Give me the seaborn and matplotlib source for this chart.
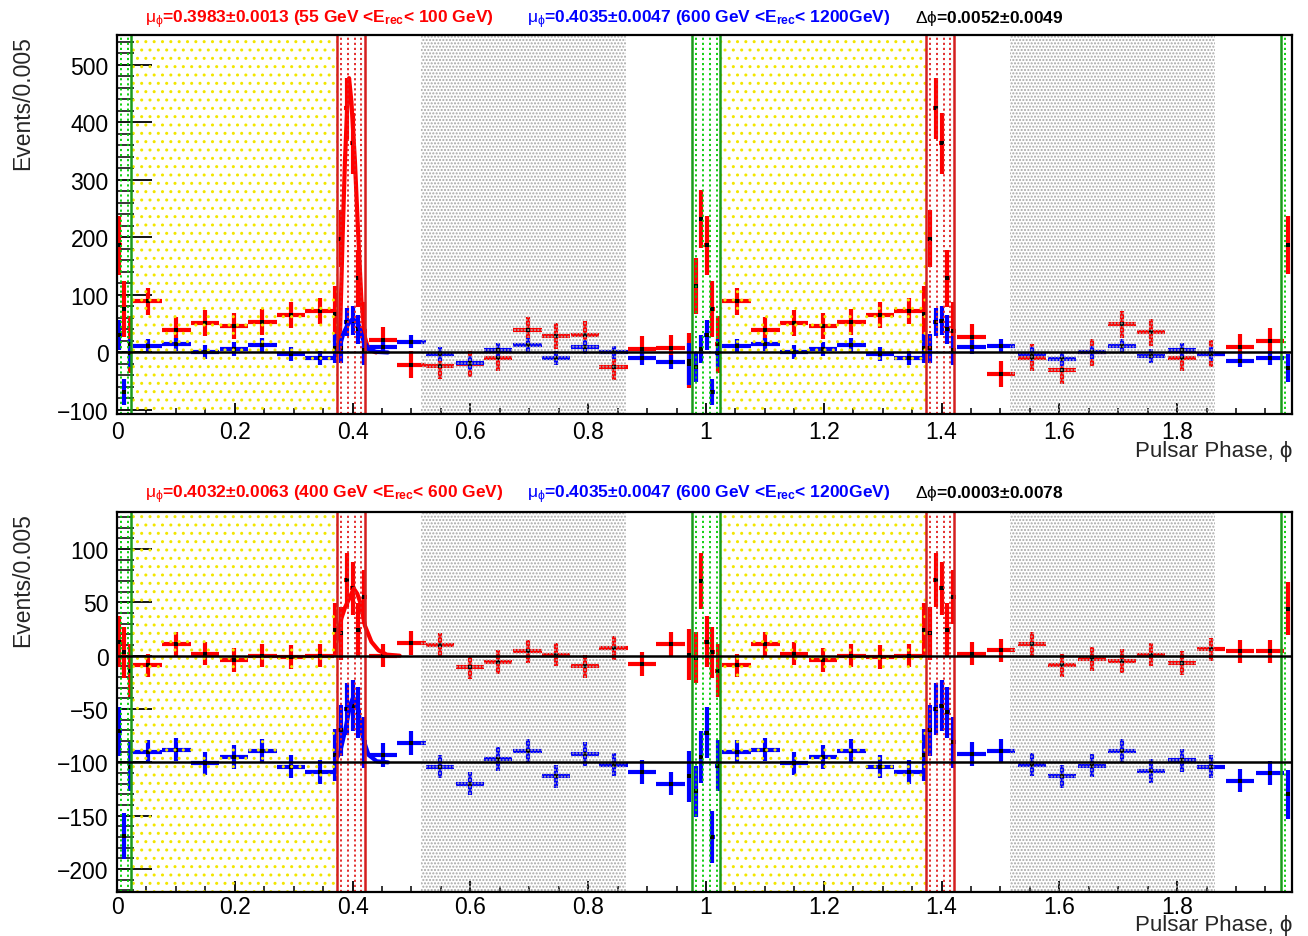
import numpy as np
import matplotlib
matplotlib.use("Agg")
import matplotlib.pyplot as plt
from matplotlib.ticker import MultipleLocator, FuncFormatter
import seaborn as sns

sns.set_style("white")
plt.rcParams['font.family'] = ['Liberation Sans', 'DejaVu Sans']
plt.rcParams['mathtext.fontset'] = 'custom'
plt.rcParams['mathtext.rm'] = 'Liberation Sans'
plt.rcParams['mathtext.it'] = 'Liberation Sans'
plt.rcParams['mathtext.bf'] = 'Liberation Sans:bold'
plt.rcParams['mathtext.fallback'] = 'stixsans'
plt.rcParams['hatch.linewidth'] = 1.0

# ---------------- data ----------------
# phase positions (bin centres) and bin half widths
PH_EDGE = [0.004, 0.012, 0.022]
PH_EDGE_HALF = [0.004, 0.004, 0.004]
PH_ON = [0.052, 0.101, 0.149, 0.199, 0.247, 0.295, 0.344, 0.370, 0.380, 0.390, 0.400, 0.410, 0.420]
PH_ON_HALF = [0.024] * 7 + [0.004] * 6
PH_OFF1 = [0.452, 0.500, 0.548, 0.599, 0.647, 0.697, 0.745, 0.795, 0.843, 0.891, 0.940,
           0.971, 0.983, 0.9915, 1.001, 1.011, 1.020]
PH_OFF1_HALF = [0.024] * 11 + [0.004] * 6
PH_OFF2 = [1.451, 1.501, 1.553, 1.604, 1.655, 1.706, 1.756, 1.808, 1.857, 1.907, 1.958, 1.988]
PH_OFF2_HALF = [0.024] * 11 + [0.004]

# top panel: 55-100 GeV (red), 600-1200 GeV (blue)
TOP_RED_EDGE = [186, 76, 14]
TOP_RED_EDGE_ERR = [51, 49, 49]
TOP_RED_ON = [89, 39, 51, 46, 53, 65, 72, 67, 198, 425, 364, 129, 37]
TOP_RED_ON_ERR = [23] * 7 + [48, 50, 53, 53, 50, 51]
TOP_RED_OFF1 = [21, -21, -23, -20, -10, 39, 29, 31, -25, 6, 7, -14, 116, 232, 186, 76, 14]
TOP_RED_OFF1_ERR = [23] * 11 + [48, 49, 51, 51, 49, 49]
TOP_RED_OFF2 = [27, -37, -9, -31, 0, 49, 35, -10, -2, 9, 20, 187]
TOP_RED_OFF2_ERR = [23] * 11 + [50]

TOP_BLUE_EDGE = [31, -69, -1]
TOP_BLUE_EDGE_ERR = [26, 23, 25]
TOP_BLUE_ON = [12, 14, 1, 6, 13, -2, -9, 7, 7, 53, 55, 40, 4]
TOP_BLUE_ON_ERR = [12] * 7 + [25] * 6
TOP_BLUE_OFF1 = [9, 19, -2, -19, 4, 13, -9, 10, 0, -9, -17, -20, -26, 6, 30, -69, -1]
TOP_BLUE_OFF1_ERR = [12] * 11 + [37, 26, 25, 26, 23, 25]
TOP_BLUE_OFF2 = [10, 11, -2, -12, 0, 11, -6, 4, -3, -14, -9, -27]
TOP_BLUE_OFF2_ERR = [12] * 11 + [25]

# bottom panel: 400-600 GeV (red), 600-1200 GeV shifted by -100 (blue)
BOT_RED_EDGE = [13, 3, -14]
BOT_RED_EDGE_ERR = [24, 24, 25]
BOT_RED_ON = [-9, 11, 2, -4, 0, -1, 0, 24, 21, 71, 63, 24, 55]
BOT_RED_ON_ERR = [11] * 7 + [25] * 6
BOT_RED_OFF1 = [0, 12, 10, -11, -6, 4, 1, -10, 7, -8, 11, 1, -2, 70, 13, 3, -14]
BOT_RED_OFF1_ERR = [11] * 11 + [24, 24, 26, 24, 24, 25]
BOT_RED_OFF2 = [2, 5, 11, -9, -3, -5, 1, -7, 6, 4, 4, 44]
BOT_RED_OFF2_ERR = [11] * 11 + [25]

BOT_BLUE_EDGE = [-71, -169, -104]
BOT_BLUE_EDGE_ERR = [23, 22, 23]
BOT_BLUE_ON = [-90, -88, -101, -95, -89, -104, -109, -93, -70, -50, -47, -53, -81]
BOT_BLUE_ON_ERR = [11] * 7 + [24] * 6
BOT_BLUE_OFF1 = [-93, -82, -104, -120, -97, -89, -113, -92, -102, -109, -120,
                 -113, -127, -95, -72, -170, -103]
BOT_BLUE_OFF1_ERR = [11] * 11 + [24] * 6
BOT_BLUE_OFF2 = [-92, -89, -102, -113, -103, -89, -108, -98, -104, -117, -110, -130]
BOT_BLUE_OFF2_ERR = [11] * 11 + [23]

# fitted pulse profiles
FIT_TOP_RED_X = [0.372, 0.376, 0.378, 0.383, 0.387, 0.391, 0.394, 0.398, 0.404, 0.410, 0.415, 0.421, 0.427, 0.440]
FIT_TOP_RED_Y = [0, 3, 8, 199, 332, 430, 477, 436, 332, 194, 90, 26, 5, 0]
FIT_TOP_BLUE_X = [0.372, 0.378, 0.384, 0.390, 0.395, 0.400, 0.405, 0.410, 0.418, 0.427, 0.440, 0.460]
FIT_TOP_BLUE_Y = [0, 10, 32, 45, 53, 58, 55, 49, 22, 6, 1, 0]
FIT_BOT_RED_X = [0.372, 0.381, 0.387, 0.393, 0.402, 0.408, 0.413, 0.421, 0.432, 0.444, 0.458, 0.480]
FIT_BOT_RED_Y = [12, 35, 45, 52, 63, 58, 50, 28, 13, 5, 1, 0]
FIT_BOT_BLUE_X = [0.372, 0.379, 0.387, 0.396, 0.401, 0.405, 0.410, 0.418, 0.427, 0.441, 0.460]
FIT_BOT_BLUE_Y = [-97, -90, -71, -46, -39, -43, -53, -78, -93, -99, -100]

TOP_TITLES = [r'$\mu_{\phi}$' + '=0.3983±0.0013 (55 GeV <E' + r'$_{\mathbf{rec}}$' + '< 100 GeV)',
              r'$\mu_{\phi}$' + '=0.4035±0.0047 (600 GeV <E' + r'$_{\mathbf{rec}}$' + '< 1200GeV)',
              r'$\Delta\phi$' + '=0.0052±0.0049']
BOT_TITLES = [r'$\mu_{\phi}$' + '=0.4032±0.0063 (400 GeV <E' + r'$_{\mathbf{rec}}$' + '< 600 GeV)',
              r'$\mu_{\phi}$' + '=0.4035±0.0047 (600 GeV <E' + r'$_{\mathbf{rec}}$' + '< 1200GeV)',
              r'$\Delta\phi$' + '=0.0003±0.0078']
Y_LABEL = "Events/0.005"
X_LABEL = "Pulsar Phase, ϕ"

# phase regions
GREEN_BAND = (-0.023, 0.024)
YELLOW_BAND = (0.024, 0.374)
RED_BAND = (0.374, 0.421)
GRAY_BAND = (0.516, 0.865)

RED = '#ff0000'
BLUE = '#0000ff'


def full(edge, on, off1, off2):
    return list(edge) + list(on) + list(off1) + list(on) + list(off2)


X_ALL = PH_EDGE + PH_ON + PH_OFF1 + [p + 1 for p in PH_ON] + PH_OFF2
XERR_ALL = PH_EDGE_HALF + PH_ON_HALF + PH_OFF1_HALF + PH_ON_HALF + PH_OFF2_HALF

fig = plt.figure(figsize=(13.08, 9.37), dpi=100)
ax_top = fig.add_axes([117 / 1308, 1 - 415 / 937, 1175 / 1308, 379 / 937])
ax_bot = fig.add_axes([117 / 1308, 1 - 893 / 937, 1175 / 1308, 380 / 937])

fmt = FuncFormatter(lambda v, p: f"{v:g}".replace('-', '\u2212'))


def draw_bands(ax):
    tr = ax.get_xaxis_transform()
    for k in (0, 1, 2):
        g0, g1 = GREEN_BAND[0] + k, GREEN_BAND[1] + k
        ax.vlines([g0 + (i + 0.5) * (g1 - g0) / 4 for i in range(4)], 0, 1, transform=tr,
                  colors='#00cc00', linestyles=(0, (1.2, 1.6)), lw=1.3, zorder=5)
        for e in (g0, g1):
            ax.axvline(e, color='#1a9a1a', lw=1.8, zorder=6)
    for k in (0, 1):
        ax.axvspan(YELLOW_BAND[0] + k, YELLOW_BAND[1] + k, facecolor='none',
                   edgecolor='#f2e600', hatch='..', lw=0, zorder=5)
        ax.axvspan(GRAY_BAND[0] + k, GRAY_BAND[1] + k, facecolor='none',
                   edgecolor='#a6a6a6', hatch='.....', lw=0, zorder=5)
        r0, r1 = RED_BAND[0] + k, RED_BAND[1] + k
        ax.vlines([r0 + (i + 0.5) * (r1 - r0) / 4 for i in range(4)], 0, 1, transform=tr,
                  colors='#e02020', linestyles=(0, (1.2, 1.6)), lw=1.3, zorder=5)
        for e in (r0, r1):
            ax.axvline(e, color='#d42020', lw=1.8, zorder=6)


def draw_series(ax, y, yerr, color):
    ax.errorbar(X_ALL, y, yerr=yerr, xerr=XERR_ALL, fmt='none', ecolor=color,
                elinewidth=3.0, capsize=0, zorder=3)
    sns.scatterplot(x=X_ALL, y=y, ax=ax, marker='s', s=5, color='black',
                    linewidth=0, zorder=4, legend=False)


def style_axis(ax, ylim, ymaj, ymin, xlab_y, xpad):
    ax.set_xlim(0, 1.995)
    ax.set_ylim(*ylim)
    ax.xaxis.set_major_locator(MultipleLocator(0.2))
    ax.xaxis.set_minor_locator(MultipleLocator(0.05))
    ax.yaxis.set_major_locator(MultipleLocator(ymaj))
    ax.yaxis.set_minor_locator(MultipleLocator(ymin))
    ax.xaxis.set_major_formatter(fmt)
    ax.yaxis.set_major_formatter(fmt)
    ax.tick_params(axis='x', which='major', direction='in', length=8, width=1.3,
                   top=False, bottom=True, labelsize=16.5, pad=xpad, colors='black')
    ax.tick_params(axis='x', which='minor', direction='in', length=4.3, width=1.3,
                   top=False, bottom=True)
    ax.tick_params(axis='y', which='major', direction='in', length=25, width=1.3,
                   right=False, left=True, labelsize=16.5, pad=6, colors='black')
    ax.tick_params(axis='y', which='minor', direction='in', length=12.5, width=1.3,
                   right=False, left=True)
    for s in ax.spines.values():
        s.set_color('black')
        s.set_linewidth(1.6)
        s.set_zorder(8)
    ax.set_ylabel(Y_LABEL, fontsize=16.5, loc='top')
    ax.yaxis.set_label_coords(-0.0706, 1.0)
    ax.set_xlabel(X_LABEL, fontsize=16, loc='right')
    ax.xaxis.set_label_coords(1.0, xlab_y)


# ---- top panel
draw_bands(ax_top)
draw_series(ax_top, full(TOP_RED_EDGE, TOP_RED_ON, TOP_RED_OFF1, TOP_RED_OFF2),
            full(TOP_RED_EDGE_ERR, TOP_RED_ON_ERR, TOP_RED_OFF1_ERR, TOP_RED_OFF2_ERR), RED)
draw_series(ax_top, full(TOP_BLUE_EDGE, TOP_BLUE_ON, TOP_BLUE_OFF1, TOP_BLUE_OFF2),
            full(TOP_BLUE_EDGE_ERR, TOP_BLUE_ON_ERR, TOP_BLUE_OFF1_ERR, TOP_BLUE_OFF2_ERR), BLUE)
sns.lineplot(x=FIT_TOP_RED_X, y=FIT_TOP_RED_Y, ax=ax_top, color=RED, lw=3, sort=False,
             estimator=None, zorder=4)
sns.lineplot(x=FIT_TOP_BLUE_X, y=FIT_TOP_BLUE_Y, ax=ax_top, color=BLUE, lw=3, sort=False,
             estimator=None, zorder=4)
ax_top.axhline(0, color='black', lw=1.8, zorder=7)
style_axis(ax_top, (-107, 552), 100, 20, -0.068, 4)

# ---- bottom panel
draw_bands(ax_bot)
draw_series(ax_bot, full(BOT_RED_EDGE, BOT_RED_ON, BOT_RED_OFF1, BOT_RED_OFF2),
            full(BOT_RED_EDGE_ERR, BOT_RED_ON_ERR, BOT_RED_OFF1_ERR, BOT_RED_OFF2_ERR), RED)
draw_series(ax_bot, full(BOT_BLUE_EDGE, BOT_BLUE_ON, BOT_BLUE_OFF1, BOT_BLUE_OFF2),
            full(BOT_BLUE_EDGE_ERR, BOT_BLUE_ON_ERR, BOT_BLUE_OFF1_ERR, BOT_BLUE_OFF2_ERR), BLUE)
sns.lineplot(x=FIT_BOT_RED_X, y=FIT_BOT_RED_Y, ax=ax_bot, color=RED, lw=3, sort=False,
             estimator=None, zorder=4)
sns.lineplot(x=FIT_BOT_BLUE_X, y=FIT_BOT_BLUE_Y, ax=ax_bot, color=BLUE, lw=3, sort=False,
             estimator=None, zorder=4)
ax_bot.axhline(0, color='black', lw=1.8, zorder=7)
ax_bot.axhline(-100, color='black', lw=1.8, zorder=7)
style_axis(ax_bot, (-221.5, 134.7), 50, 10, -0.058, 2)

# ---- titles
for titles, base in ((TOP_TITLES, 23), (BOT_TITLES, 498)):
    for txt, xpix, col in zip(titles, (145, 527, 915), (RED, BLUE, 'black')):
        fig.text(xpix / 1308, 1 - base / 937, txt, color=col, fontsize=12.5,
                 fontweight='bold', ha='left', va='baseline')

fig.savefig('out.png', dpi=100)
